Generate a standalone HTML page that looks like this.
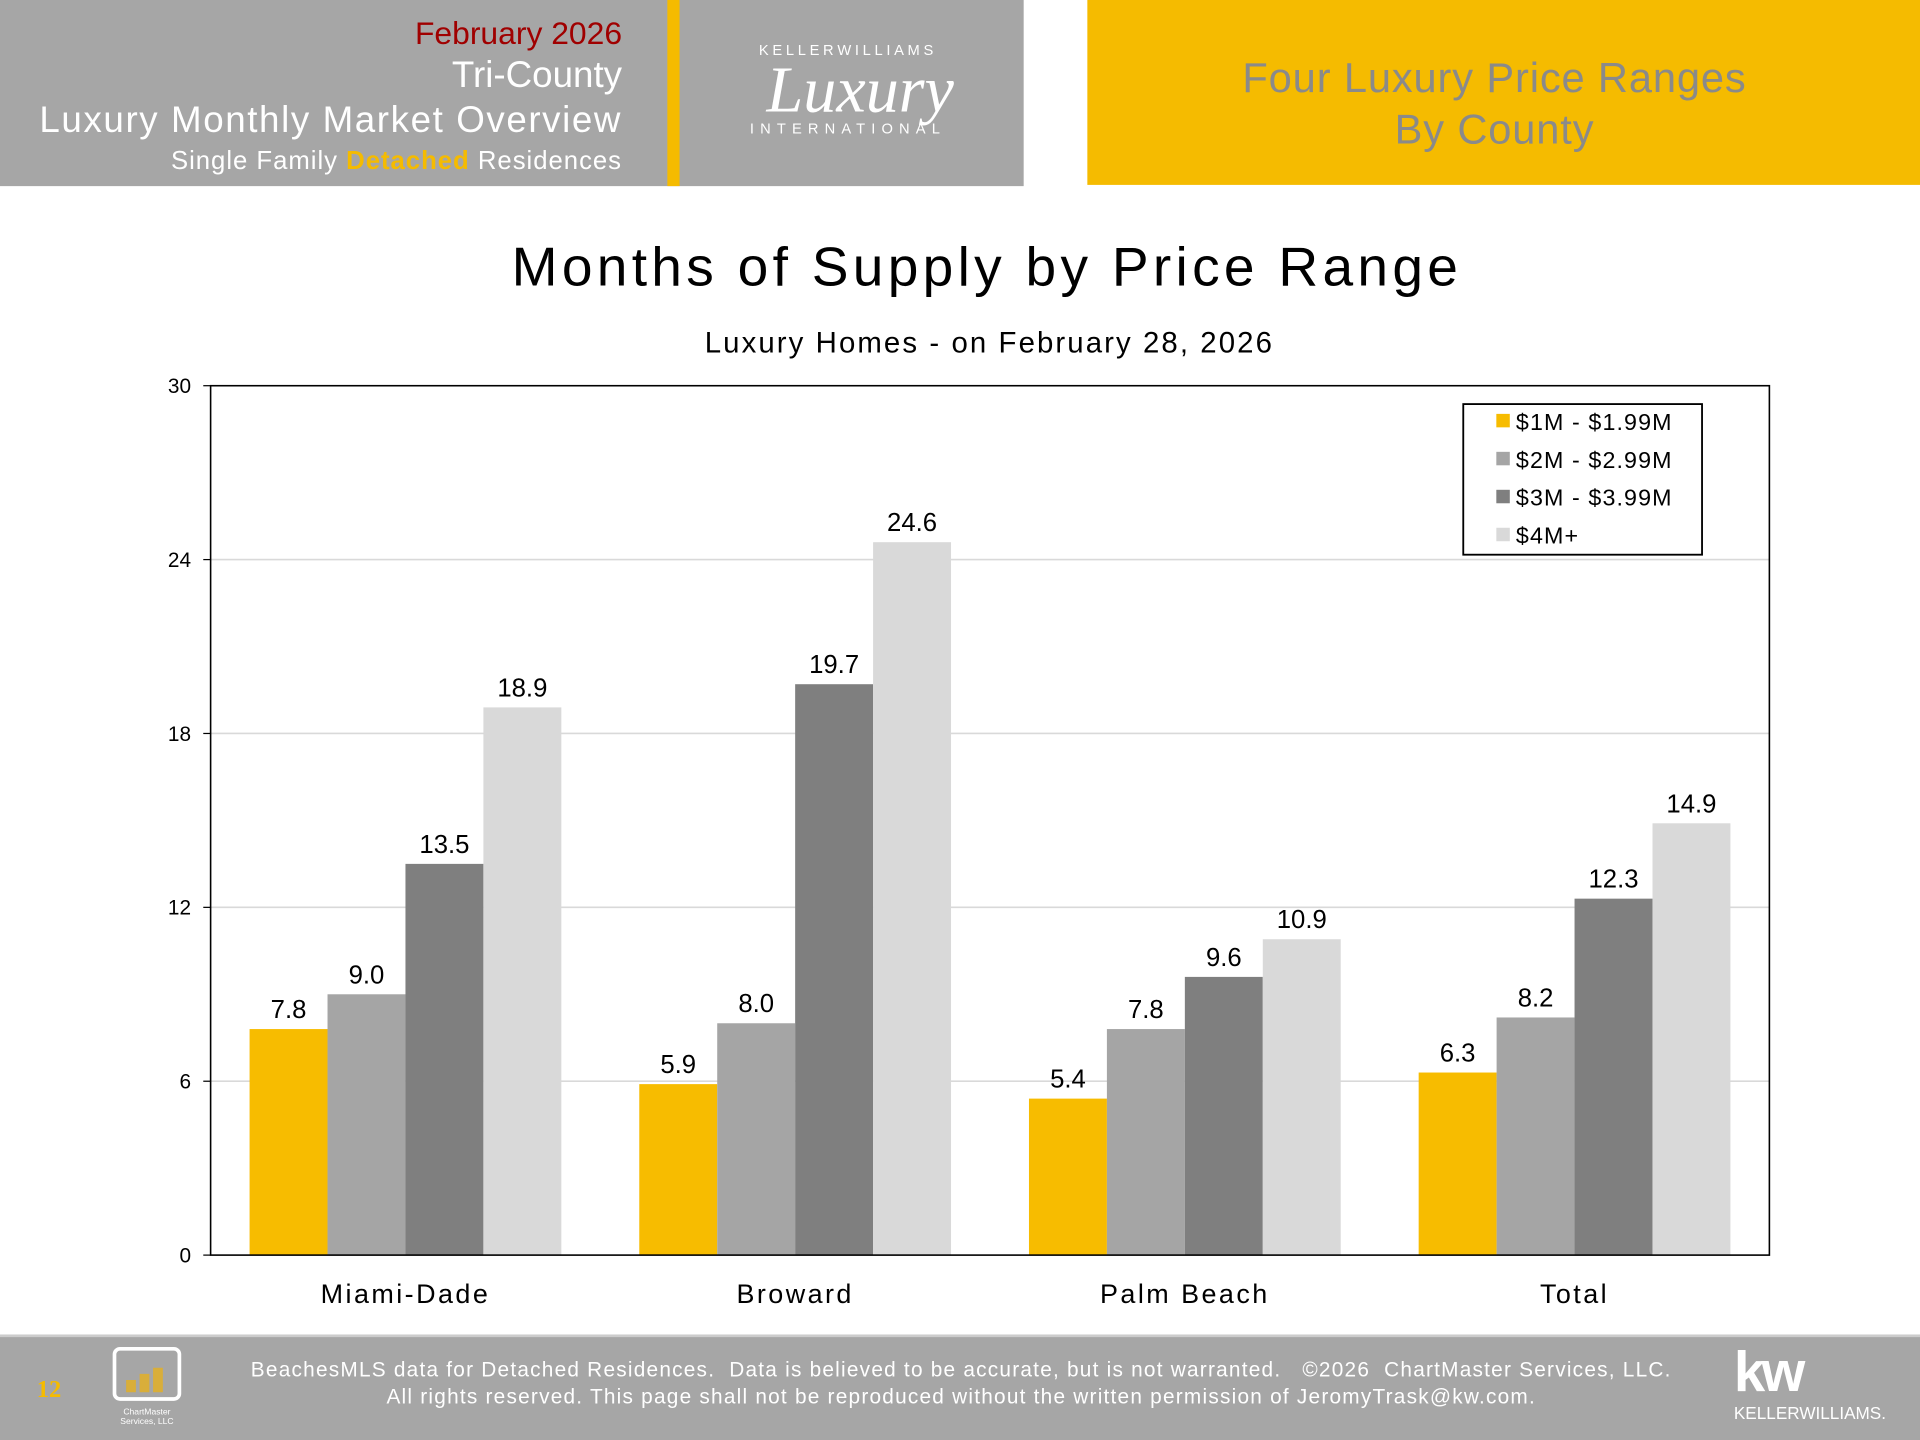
<!DOCTYPE html>
<html><head><meta charset="utf-8"><style>
html,body{margin:0;padding:0;background:#fff;}
body{width:1920px;height:1440px;overflow:hidden;}
#wrap{position:absolute;left:0;top:0;width:1568px;height:1176px;transform:scale(1.2244898);transform-origin:0 0;font-family:"Liberation Sans",sans-serif;}
.abs{position:absolute;}
</style></head><body>
<div id="wrap">
 <div class="abs" style="left:0;top:0;width:836px;height:152px;background:#a6a6a6;"></div>
 <div class="abs" style="left:545px;top:0;width:10px;height:152px;background:#f5bb00;"></div>
 <div class="abs" style="right:1060px;top:10px;text-align:right;color:#fff;white-space:nowrap;">
  <div style="color:#a00000;font-size:26px;line-height:34px;">February 2026</div>
  <div style="font-size:30px;line-height:36px;">Tri-County</div>
  <div style="font-size:30px;line-height:38px;letter-spacing:1.3px;">Luxury Monthly Market Overview</div>
  <div style="font-size:21px;line-height:28px;letter-spacing:0.8px;">Single Family <b style="color:#f5bb00">Detached</b> Residences</div>
 </div>
 <div class="abs" style="left:575px;top:34px;width:255px;color:#fff;text-align:center;">
  <div style="font-size:12px;letter-spacing:3px;margin-left:-20px;">KELLER<span style="font-weight:300">WILLIAMS</span></div>
  <div style="font-family:'Liberation Serif',serif;font-style:italic;font-size:54px;line-height:50px;">Luxury</div>
  <div style="font-size:12px;letter-spacing:5px;margin-left:-20px;">INTERNATIONAL</div>
 </div>
 <div class="abs" style="left:888px;top:0;width:680px;height:151px;background:#f5bb00;"></div>
 <div class="abs" style="left:888px;top:43px;width:665px;text-align:center;color:#8a8a8a;font-size:34px;line-height:42px;letter-spacing:0.7px;">Four Luxury Price Ranges<br>By County</div>

 <svg class="abs" style="left:0;top:0" width="1568" height="1090" id="chart"></svg>

 <div class="abs" style="left:0;top:1090px;width:1568px;height:86px;background:#a6a6a6;border-top:2px solid #ccc;box-sizing:border-box;"></div>
 <div class="abs" style="left:30px;top:1124px;color:#f5bb00;font-family:'Liberation Serif',serif;font-size:20px;font-weight:bold;">12</div>
 <div class="abs" style="left:92px;top:1100px;width:56px;height:44px;border:3px solid #fff;border-radius:6px;box-sizing:border-box;">
  <div style="position:absolute;left:8px;bottom:4px;width:8px;height:10px;background:#d9ae3a"></div>
  <div style="position:absolute;left:19px;bottom:4px;width:8px;height:15px;background:#d9ae3a"></div>
  <div style="position:absolute;left:30px;bottom:4px;width:8px;height:20px;background:#d9ae3a"></div>
 </div>
 <div class="abs" style="left:88px;top:1150px;width:64px;text-align:center;color:#fff;font-size:7px;line-height:8px;">ChartMaster<br>Services, LLC</div>
 <div class="abs" style="left:140px;top:1108px;width:1290px;text-align:center;color:#fff;font-size:17px;line-height:22px;letter-spacing:1px;">BeachesMLS data for Detached Residences.&nbsp; Data is believed to be accurate, but is not warranted.&nbsp;&nbsp; ©2026&nbsp; ChartMaster Services, LLC.<br>All rights reserved. This page shall not be reproduced without the written permission of JeromyTrask@kw.com.</div>
 <div class="abs" style="left:1416px;top:1094px;color:#fff;">
  <div style="font-size:46px;font-weight:bold;letter-spacing:-3px;line-height:52px;">kw</div>
  <div style="font-size:14px;line-height:16px;">KELLERWILLIAMS.</div>
 </div>
</div>
<script>
const categories=["Miami-Dade","Broward","Palm Beach","Total"];
const seriesNames=["$1M - $1.99M","$2M - $2.99M","$3M - $3.99M","$4M+"];
const s1=[7.8,5.9,5.4,6.3];
const s2=[9.0,8.0,7.8,8.2];
const s3=[13.5,19.7,9.6,12.3];
const s4=[18.9,24.6,10.9,14.9];
const yTicks=[0,6,12,18,24,30];
const colors=["#f7bc00","#a5a5a5","#7f7f7f","#d9d9d9"];
const series=[s1,s2,s3,s4];
const NS="http://www.w3.org/2000/svg";
const svg=document.getElementById('chart');
const X0=172,X1=1445,Y0=1025,Y1=315,YMAX=30;
const y=v=>Y0-(v/YMAX)*(Y0-Y1);
const gw=(X1-X0)/categories.length, bw=gw*0.2, pad=(gw-4*bw)/2;
function el(t,a,txt){const e=document.createElementNS(NS,t);for(const k in a)e.setAttribute(k,a[k]);if(txt!=null)e.textContent=txt;svg.appendChild(e);return e;}
const F='"Liberation Sans",sans-serif';
let t=el('text',{x:806,y:233,'text-anchor':'middle','font-size':45,'font-family':F,fill:'#000','letter-spacing':3.5},'Months of Supply by Price Range');


t=el('text',{x:808,y:288,'text-anchor':'middle','font-size':24,'font-family':F,fill:'#000','letter-spacing':1.7},'Luxury Homes - on February 28, 2026');


yTicks.forEach(v=>{
 if(v>0&&v<YMAX){const g=el('line',{x1:X0,x2:X1,y1:y(v),y2:y(v),stroke:'#d9d9d9','stroke-width':1.3});
 
 }
 const tk=el('line',{x1:X0-6,x2:X0,y1:y(v),y2:y(v),stroke:'#000'});
 
 
 const l=el('text',{x:156,y:y(v)+6,'text-anchor':'end','font-size':17,'font-family':F,fill:'#000'},String(v));
 
 
});
categories.forEach((c,i)=>{
 series.forEach((s,j)=>{
  const bx=X0+i*gw+pad+j*bw;
  const r=el('rect',{x:bx,y:y(s[i]),width:bw,height:Y0-y(s[i]),fill:colors[j]});
  
  
  const lb=el('text',{x:bx+bw/2,y:y(s[i])-9,'text-anchor':'middle','font-size':21,'font-family':F,fill:'#000'},s[i].toFixed(1));
  
  
 });
 const xl=el('text',{x:X0+i*gw+gw/2,y:1064,'text-anchor':'middle','font-size':22,'font-family':F,fill:'#000','letter-spacing':2},c);
 
 
});
const fr=el('rect',{x:X0,y:Y1,width:X1-X0,height:Y0-Y1,fill:'none',stroke:'#000','stroke-width':1.3});


const lg=el('rect',{x:1195,y:330,width:195,height:123,fill:'#fff',stroke:'#000','stroke-width':1.5});


seriesNames.forEach((n,j)=>{
 const sw=el('rect',{x:1222,y:338+j*31,width:11,height:11,fill:colors[j]});
 
 
 const lt=el('text',{x:1238,y:351+j*31,'font-size':19,'font-family':F,fill:'#000','letter-spacing':0.9},n);
 
 
});
</script>
</body></html>
